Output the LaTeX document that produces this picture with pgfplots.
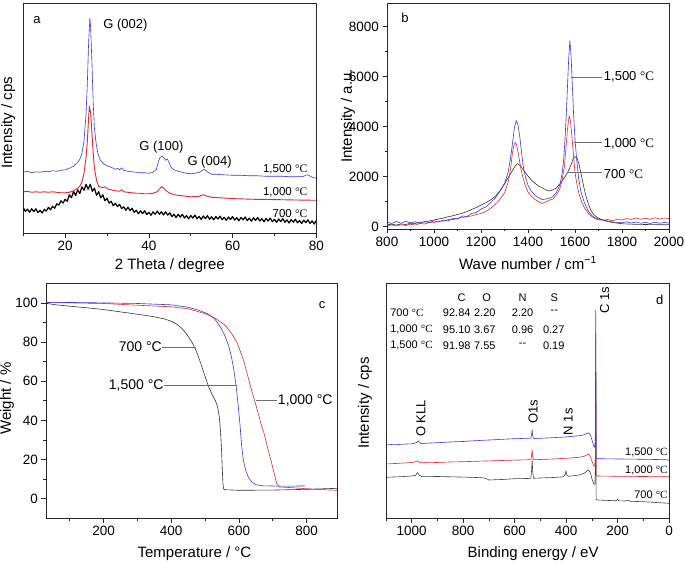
\documentclass[border=0pt]{standalone}
\usepackage{fontspec}
\setmainfont{Liberation Sans}
\newfontfamily\serif{Liberation Serif}
\usepackage{pgfplots}
\pgfplotsset{compat=1.18}
\definecolor{bl}{RGB}{55,55,225}
\definecolor{rd}{RGB}{225,40,40}
\definecolor{gr}{RGB}{110,110,110}
\newcommand{\dc}{{\serif °C}}
\newcommand{\fs}[1]{\fontsize{#1}{#1}\selectfont}
\pgfplotsset{base/.style={scale only axis, anchor=south west,
  axis line style={black!85, line width=0.6pt}, tick align=outside,
  xtick pos=bottom, ytick pos=left, tick style={black!85, line width=0.6pt},
  major tick length=4.5pt, minor tick length=2.5pt,
  ticklabel style={font=\fs{13.5}}, label style={font=\fs{15}},
  /pgf/number format/assume math mode=true, /pgf/number format/1000 sep={},
  every axis plot/.append style={line width=0.6pt, line join=round}}}
\begin{document}
\begin{tikzpicture}
\path[use as bounding box] (0pt,0pt) rectangle (685pt,564pt);
% ---------------- panel a
\begin{axis}[base, at={(23.3pt,330.7pt)}, width=293pt, height=230pt,
  xmin=10, xmax=80, ymin=0, ymax=230, xtick={20,40,60,80}, minor xtick={10,30,50,70}, ytick=\empty,
  xlabel={2 Theta / degree}, ylabel={Intensity / cps},
  xlabel style={at={(axis description cs:0.5,-0.139)}, anchor=center},
  ylabel style={at={(axis description cs:-0.051,0.48)}, anchor=center}]
\addplot[black, line width=1.2pt] coordinates {(10,25.7)(10.5,21.9)(11,24.2)(11.5,21.0)(12,24.5)(12.5,21.7)(13,24.5)(13.5,20.7)(14,23.0)(14.5,20.2)(15,24.0)(15.5,22.2)(16,26)(16.5,23.5)(17,27)(17.5,25)(18,29.5)(18.5,28.2)(19,32.5)(19.5,30.2)(20,34)(20.5,32)(21,38.5)(21.5,35.5)(22,42)(22.5,37.7)(23,43.5)(23.5,39.7)(24,46.5)(24.5,43)(25,49)(25.5,44)(26,49)(26.5,42)(27,45)(27.5,38)(28,41.5)(28.5,35.5)(29,38.5)(29.5,32.5)(30,35)(30.5,30.2)(31,32)(31.5,27.5)(32,30)(32.5,26.7)(33,29)(33.5,24.7)(34,26.5)(34.5,23)(35,26)(35.5,22.7)(36,25)(36.5,21)(37,23)(37.5,19.5)(38,22.5)(38.5,19.7)(39,22.5)(39.5,18.7)(40,21)(40.5,18)(41,21.5)(41.5,19)(42,22.2)(42.5,19)(43,21.5)(43.5,18.3)(44,21.5)(44.5,18.2)(45,20.5)(45.5,16.7)(46,19)(46.5,15.7)(47,19)(47.5,16.2)(48,19)(48.5,15.3)(49,17.6)(49.5,14.4)(50,17.8)(50.5,15.2)(51,18.1)(51.5,14.5)(52,16.9)(52.5,13.9)(53,17.3)(53.5,14.7)(54,17.6)(54.5,14)(55,16.5)(55.5,13.4)(56,16.8)(56.5,14.2)(57,17.2)(57.5,13.6)(58,16)(58.5,12.9)(59,16.3)(59.5,13.8)(60,16.7)(60.5,13.1)(61,15.6)(61.5,12.5)(62,15.9)(62.5,13.4)(63,16.3)(63.5,12.7)(64,15.1)(64.5,12.1)(65,15.5)(65.5,12.9)(66,15.8)(66.5,12.2)(67,14.6)(67.5,11.5)(68,14.9)(68.5,12.3)(69,15.2)(69.5,11.6)(70,14)(70.5,10.9)(71,14.3)(71.5,11.7)(72,14.6)(72.5,11)(73,13.4)(73.5,10.3)(74,13.7)(74.5,11.1)(75,14)(75.5,10.4)(76,12.8)(76.5,9.7)(77,13.1)(77.5,10.6)(78,13.5)(78.5,9.9)(79,12.4)(79.5,9.3)(80,12.8)};
\addplot[rd, line width=0.9pt] coordinates {(10,41.5)(11,42)(12,41)(13,41.5)(14,41)(15,41.5)(16,41)(17,41.5)(18,41)(19,40.5)(20,40.5)(21,41)(22,42.5)(23,45)(23.5,47)(24,51)(24.5,60)(25,76)(25.3,92)(25.6,115)(25.8,127)(26.1,120)(26.4,100)(26.7,80)(27,65)(27.5,53)(28,47)(29,45.5)(29.5,46.5)(30,44.5)(31,43.5)(32,42.5)(33,42)(33.5,43.5)(34,41.5)(35,41)(36,40.5)(37,40)(38,40)(39,39.5)(40,39.5)(41,40)(42,41.5)(42.5,44)(43,46.5)(43.5,45.5)(44,43)(45,40)(46,38.5)(47,38)(48,37.5)(50,36.5)(52,37)(53,38.5)(54,37)(55,36)(57,35.5)(60,34.7)(65,34)(70,33.7)(75,33.3)(80,33)};
\addplot[bl] coordinates {(10,61)(11,62)(12,60.5)(13,61.5)(14,61)(15,62)(16,61.5)(17,62.5)(18,62)(19,63)(20,63.5)(21,65)(22,67)(23,71)(23.5,74)(24,80)(24.5,92)(25,120)(25.3,150)(25.6,190)(25.9,215)(26.1,205)(26.4,170)(26.7,130)(27,105)(27.4,90)(27.8,80)(28.3,74)(29,70)(30,67.5)(31,66)(32,64)(32.5,65)(33,63.5)(33.5,65.5)(34,63)(35,62)(36,61.5)(37,61)(38,60.5)(39,60.5)(40,60)(41,61)(41.8,64)(42.3,72)(42.7,76)(43.2,77)(43.6,75.5)(44,73)(44.4,74.5)(44.8,71)(45.3,66)(46,63.5)(47,62)(48,61)(49,60)(50,59.5)(51,60)(52,61)(52.8,63)(53.3,64)(53.8,62)(54.5,60)(55,59)(56,59)(58,58.5)(60,58)(62,58)(64,57.5)(66,57.5)(68,57)(70,57)(72,57)(74,56.5)(76,56.5)(77,57)(77.7,58.5)(78.2,58)(78.8,56.5)(79.5,55.5)(80,55)};
\node[font=\fs{13}] at (axis cs:13.3,213) {a};
\node[font=\fs{13}] at (axis cs:34.4,208) {G (002)};
\node[font=\fs{13}] at (axis cs:43,86) {G (100)};
\node[font=\fs{13}] at (axis cs:54.5,71) {G (004)};
\node[font=\fs{11.5}, anchor=east, inner sep=0pt] at (axis cs:77.9,64) {1,500 \dc};
\node[font=\fs{11.5}, anchor=east, inner sep=0pt] at (axis cs:77.9,41) {1,000 \dc};
\node[font=\fs{11.5}, anchor=east, inner sep=0pt] at (axis cs:77.9,20) {700 \dc};
\end{axis}
% ---------------- panel b
\begin{axis}[base, at={(387pt,335pt)}, width=282pt, height=226pt,
  xmin=800, xmax=2000, ymin=-100, ymax=8950, xtick={800,1000,...,2000}, minor xtick={900,1100,...,1900},
  ytick={0,2000,...,8000}, minor ytick={1000,3000,5000,7000},
  xlabel={Wave number / cm\textsuperscript{−1}}, ylabel={Intensity / a.u.},
  xlabel style={at={(axis description cs:0.5,-0.15)}, anchor=center},
  ylabel style={at={(axis description cs:-0.138,0.5)}, anchor=center}]
\addplot[black!80] coordinates {(800,70)(820,90)(840,60)(860,100)(880,80)(900,130)(920,120)(940,170)(960,180)(980,220)(1000,260)(1020,300)(1040,340)(1060,390)(1080,430)(1100,480)(1120,530)(1140,600)(1160,680)(1180,760)(1200,860)(1220,950)(1240,1060)(1260,1200)(1280,1420)(1300,1700)(1315,1950)(1330,2180)(1345,2420)(1355,2520)(1365,2450)(1375,2330)(1385,2200)(1400,2020)(1415,1850)(1430,1730)(1445,1620)(1460,1550)(1475,1470)(1490,1420)(1505,1460)(1520,1540)(1535,1700)(1550,1880)(1565,2100)(1580,2400)(1592,2700)(1600,2800)(1608,2750)(1617,2500)(1627,2050)(1637,1600)(1647,1200)(1657,900)(1667,650)(1680,470)(1695,360)(1710,290)(1730,220)(1750,180)(1775,140)(1800,110)(1850,90)(1900,80)(1950,70)(2000,70)};
\addplot[rd] coordinates {(800,30)(820,60)(840,20)(860,70)(880,40)(900,90)(920,60)(940,120)(960,100)(980,160)(1000,150)(1020,220)(1040,210)(1060,280)(1080,270)(1100,330)(1120,350)(1140,400)(1160,420)(1180,480)(1200,520)(1220,600)(1240,720)(1260,880)(1280,1080)(1300,1350)(1315,1750)(1325,2250)(1333,2900)(1340,3250)(1346,3370)(1352,3250)(1360,2850)(1370,2300)(1380,1900)(1390,1600)(1400,1380)(1415,1200)(1430,1080)(1445,1000)(1460,920)(1475,980)(1490,1050)(1505,1100)(1520,1250)(1535,1500)(1545,1850)(1555,2400)(1562,3200)(1568,3900)(1575,4430)(1581,4200)(1587,3600)(1594,2800)(1600,2150)(1610,1600)(1620,1200)(1630,950)(1640,750)(1655,550)(1670,400)(1685,320)(1700,270)(1720,250)(1740,280)(1760,230)(1780,290)(1800,260)(1820,320)(1840,280)(1860,340)(1880,290)(1900,330)(1920,290)(1940,350)(1960,300)(1980,340)(2000,320)};
\addplot[bl] coordinates {(800,180)(820,120)(840,200)(860,130)(880,210)(900,140)(920,190)(940,130)(960,200)(980,150)(1000,230)(1020,180)(1040,260)(1060,220)(1080,330)(1100,300)(1120,420)(1140,400)(1160,520)(1180,560)(1200,700)(1220,780)(1240,950)(1260,1130)(1280,1400)(1300,1730)(1315,2150)(1325,2700)(1335,3400)(1342,3950)(1350,4240)(1357,4100)(1365,3600)(1372,3000)(1380,2400)(1390,1950)(1400,1650)(1415,1400)(1430,1250)(1445,1150)(1460,1080)(1475,1100)(1490,1130)(1505,1200)(1520,1350)(1535,1650)(1545,2100)(1552,2700)(1558,3600)(1563,4500)(1568,5600)(1573,6700)(1578,7440)(1583,6900)(1588,5800)(1594,4500)(1600,3500)(1607,2700)(1615,1950)(1625,1400)(1640,950)(1655,650)(1670,450)(1685,350)(1700,300)(1720,260)(1740,220)(1760,180)(1780,170)(1800,150)(1820,190)(1840,140)(1860,180)(1880,130)(1900,170)(1920,120)(1940,170)(1960,130)(1980,160)(2000,140)};
\draw[gr] (axis cs:1582,5990) -- (axis cs:1715,5990);
\draw[gr] (axis cs:1597,3360) -- (axis cs:1715,3360);
\draw[gr] (axis cs:1566,2160) -- (axis cs:1715,2160);
\node[font=\fs{13}, anchor=west, inner sep=1pt] at (axis cs:1718,6000) {1,500 \dc};
\node[font=\fs{13}, anchor=west, inner sep=1pt] at (axis cs:1718,3300) {1,000 \dc};
\node[font=\fs{13}, anchor=west, inner sep=1pt] at (axis cs:1718,2100) {700 \dc};
\node[font=\fs{13}] at (axis cs:877,8350) {b};
\end{axis}
% ---------------- panel c
\begin{axis}[base, at={(46pt,45.7pt)}, width=291pt, height=235pt,
  xmin=30, xmax=890, ymin=-10, ymax=110, xtick={200,400,600,800}, minor xtick={100,300,500,700},
  ytick={0,20,...,100}, minor ytick={10,30,...,90},
  xlabel={Temperature / °C}, ylabel={Weight / \%},
  xlabel style={at={(axis description cs:0.51,-0.149)}, anchor=center},
  ylabel style={at={(axis description cs:-0.134,0.51)}, anchor=center}]
\addplot[black!80] coordinates {(30,99.8)(60,99)(100,98.3)(150,97.5)(200,96.6)(250,95.4)(300,94.2)(350,92.9)(380,91.8)(400,90.6)(415,89.3)(430,87.2)(440,85.3)(450,83)(460,80.3)(470,77)(480,72.8)(490,67.7)(500,62.5)(510,57.5)(520,53.5)(530,50.3)(537,47)(542,42)(546,34)(549,24)(551,15)(553,7.5)(555,5)(558,4.6)(600,4.3)(700,4.4)(800,4.8)(890,5.3)};
\addplot[rd] coordinates {(30,100.2)(100,100)(200,99.7)(300,98.8)(400,98)(450,97)(500,94.5)(530,92.2)(560,88.5)(580,84)(595,79.5)(605,75)(615,70)(625,63.5)(635,57)(645,51)(655,45)(665,38.5)(675,33)(685,26)(695,19.5)(705,12.5)(712,7.5)(720,6)(760,5.6)(800,5.1)(850,4.6)(890,4.3)};
\addplot[bl] coordinates {(30,100.3)(100,100.2)(200,100)(300,99.7)(400,99)(450,97.8)(480,96.3)(510,94.3)(530,91.5)(546,87.5)(558,83.5)(570,78)(578,72.5)(585,66)(592,57.5)(598,47.5)(603,38.5)(608,27.5)(613,20)(620,14.5)(628,11)(636,9)(649,7.2)(670,6.6)(720,6.4)(795,6.5)};
\draw[gr] (axis cs:374,77.2) -- (axis cs:473,77.2);
\draw[gr] (axis cs:379,57.8) -- (axis cs:594,57.8);
\draw[gr] (axis cs:650,50.3) -- (axis cs:712,50.3);
\node[font=\fs{14}, anchor=east, inner sep=1pt] at (axis cs:376,77.5) {700 °C};
\node[font=\fs{14}, anchor=east, inner sep=1pt] at (axis cs:381,58) {1,500 °C};
\node[font=\fs{14}, anchor=west, inner sep=1pt] at (axis cs:712,50) {1,000 °C};
\node[font=\fs{13}] at (axis cs:846,99) {c};
\end{axis}
% ---------------- panel d
\begin{axis}[base, at={(386pt,45.7pt)}, width=283pt, height=235pt, x dir=reverse,
  xmin=0, xmax=1100, ymin=0, ymax=235, xtick={0,200,...,1000}, minor xtick={100,300,...,1100}, ytick=\empty,
  xlabel={Binding energy / eV}, ylabel={Intensity / cps},
  xlabel style={at={(axis description cs:0.52,-0.149)}, anchor=center},
  ylabel style={at={(axis description cs:-0.074,0.49)}, anchor=center}]
\addplot[black!75] coordinates {(1100,41)(1050,41.5)(1000,42.3)(985,43)(978,45.6)(970,43)(960,41.6)(900,41.8)(850,41.5)(800,41.2)(750,40.8)(720,40.4)(705,39)(700,38.3)(650,38.8)(600,39.6)(550,39.8)(537,40)(534,48)(532,58.3)(530,48)(527,40)(500,40.3)(450,40.8)(410,41.5)(403,44)(400,47.6)(397,43)(390,42)(350,43.3)(330,45)(318,47.5)(312,48.3)(305,45)(298,38)(292,34.3)(288,34)(286,50)(285,140)(284,90)(283,19)(280,18.3)(250,18)(205,17.5)(200,19)(195,17.5)(170,17.3)(160,18)(150,17)(100,16.6)(50,15.8)(0,15)};
\addplot[rd] coordinates {(1100,54.3)(1050,55)(1000,55.8)(985,56.5)(978,57.5)(970,56)(960,55.5)(900,55.8)(850,56.3)(800,56.6)(750,57)(700,57.4)(650,57.8)(600,58.2)(550,58.5)(537,58.6)(534,63)(532,68.5)(530,62)(527,58.6)(500,58.8)(450,59.3)(400,60)(350,61)(330,62)(318,63.5)(312,64)(305,61)(298,56)(292,52.5)(288,52)(286,65)(285,185)(284,120)(283,43)(280,42.3)(200,42)(100,41.8)(0,41.5)};
\addplot[bl] coordinates {(1100,73.3)(1080,73.8)(1060,73.5)(1040,74)(1020,74.3)(1000,74.5)(990,75)(980,76)(975,77.5)(970,76)(962,74.5)(950,75)(925,75.3)(900,75.6)(875,76)(850,76.3)(825,76.6)(800,76.8)(775,77.3)(750,77.6)(725,78)(700,78.3)(675,78.6)(650,79)(625,79.3)(600,79.6)(575,79.8)(550,80)(537,80.2)(534,84)(532,88.5)(530,83)(527,80)(520,79.8)(500,80)(475,80.3)(450,80.6)(425,81)(400,81.3)(375,82)(350,82.5)(330,83.5)(318,85)(312,85.5)(305,83)(298,77)(292,72)(288,71)(286,85)(285,208)(284,150)(283,60)(280,59.5)(250,59.5)(200,59.3)(150,59.2)(100,59)(50,58.8)(10,58.5)(0,58)};
\node[font=\fs{13}] at (axis cs:36,218) {d};
\node[font=\fs{13}, rotate=90] at (axis cs:250,218) {C 1s};
\node[font=\fs{13}, rotate=90] at (axis cs:964,100) {O KLL};
\node[font=\fs{13}, rotate=90] at (axis cs:528,106.6) {O1s};
\node[font=\fs{13}, rotate=90] at (axis cs:392,96.6) {N 1s};
\begin{scope}[every node/.style={font=\fs{11}}]
\node at (axis cs:806,221) {C};
\node at (axis cs:709,221) {O};
\node at (axis cs:569,221) {N};
\node at (axis cs:446,221) {S};
\node[anchor=west, inner sep=0pt] at (axis cs:1084,206) {700 \dc};
\node[anchor=west, inner sep=0pt] at (axis cs:1084,189) {1,000 \dc};
\node[anchor=west, inner sep=0pt] at (axis cs:1084,173) {1,500 \dc};
\node at (axis cs:825,206) {92.84};
\node at (axis cs:716,206) {2.20};
\node at (axis cs:569,206) {2.20};
\node at (axis cs:446,206) {{-}{-}};
\node at (axis cs:825,189) {95.10};
\node at (axis cs:716,189) {3.67};
\node at (axis cs:569,189) {0.96};
\node at (axis cs:448,189) {0.27};
\node at (axis cs:825,173) {91.98};
\node at (axis cs:716,173) {7.55};
\node at (axis cs:569,173) {{-}{-}};
\node at (axis cs:448,173) {0.19};
\end{scope}
\node[font=\fs{11}, anchor=east, inner sep=0pt] at (axis cs:5,65.6) {1,500 \dc};
\node[font=\fs{11}, anchor=east, inner sep=0pt] at (axis cs:5,48.3) {1,000 \dc};
\node[font=\fs{11}, anchor=east, inner sep=0pt] at (axis cs:5,23.3) {700 \dc};
\end{axis}
\end{tikzpicture}
\end{document}
